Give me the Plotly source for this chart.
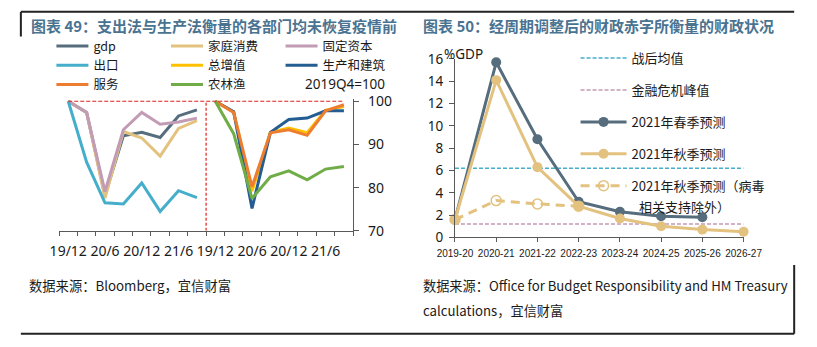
import plotly.graph_objects as go

# ---------------- data ----------------
QUARTERS = ["19/12", "20/3", "20/6", "20/9", "20/12", "21/3", "21/6", "21/9"]
LABELED_QUARTERS = ["19/12", "20/6", "20/12", "21/6"]

GDP = [100, 97.4, 78.2, 92.0, 92.8, 91.6, 96.6, 98.0]
HOUSEHOLD = [100, 97.4, 77.6, 93.0, 91.5, 87.3, 93.7, 95.5]
FIXED_CAPITAL = [100, 97.4, 79.1, 93.4, 97.4, 94.7, 95.2, 96.1]
EXPORTS = [100, 85.9, 76.5, 76.2, 81.1, 74.5, 79.3, 77.7]
GVA = [100, 97.5, 79.2, 92.8, 93.8, 92.7, 97.9, 98.8]
PRODUCTION = [100, 97.6, 75.2, 92.8, 95.8, 96.1, 97.8, 97.8]
SERVICES = [100, 97.4, 80.2, 92.7, 93.4, 92.1, 97.8, 99.2]
AGRICULTURE = [100, 92.5, 77.5, 82.5, 83.9, 81.8, 84.3, 84.9]
BASE_LEVEL = 100

YEARS = ["2019-20", "2020-21", "2021-22", "2022-23", "2023-24", "2024-25", "2025-26", "2026-27"]
SPRING = [1.6, 15.7, 8.8, 3.2, 2.3, 1.9, 1.8, None]
AUTUMN = [1.6, 14.1, 6.3, 2.8, 1.7, 1.0, 0.7, 0.5]
AUTUMN_EX_COVID = [1.6, 3.3, 3.0, 2.8, None, None, None, None]
POSTWAR_AVG = 6.2
GFC_PEAK = 1.2

# ---------------- helpers ----------------
W, H = 817, 347
def fx(px):
    return px / W
def fy(py):
    return 1 - py / H

FONT = "Noto Sans, Noto Sans CJK SC, sans-serif"
CJK = "Noto Sans CJK SC, sans-serif"
AX = "#595959"
TXT = "#1a1a1a"

n = len(QUARTERS)
pos_left = list(range(n))
pos_right = [n + i for i in range(n)]
all_pos = pos_left + pos_right
all_labels = QUARTERS + QUARTERS
tickvals = [p for p, q in zip(all_pos, all_labels) if q in LABELED_QUARTERS]
ticktext = [q for q in all_labels if q in LABELED_QUARTERS]

fig = go.Figure()

left_series = [
    ("gdp", GDP, "#566d7e", pos_left, "legend"),
    ("家庭消费", HOUSEHOLD, "#e3c27f", pos_left, "legend2"),
    ("固定资本", FIXED_CAPITAL, "#c29bb4", pos_left, "legend3"),
    ("出口", EXPORTS, "#45aecb", pos_left, "legend"),
    ("总增值", GVA, "#ffc000", pos_right, "legend2"),
    ("生产和建筑", PRODUCTION, "#245d91", pos_right, "legend3"),
    ("服务", SERVICES, "#ed7d31", pos_right, "legend"),
    ("农林渔", AGRICULTURE, "#70ad47", pos_right, "legend2"),
]
for name, vals, color, xs, lg in left_series:
    fig.add_trace(go.Scatter(
        x=xs, y=vals, name=name, mode="lines",
        line=dict(color=color, width=3), legend=lg,
        xaxis="x", yaxis="y", hoverinfo="skip"))

# red dashed baseline at 100
fig.add_trace(go.Scatter(
    x=[all_pos[0], all_pos[-1]], y=[BASE_LEVEL, BASE_LEVEL], mode="lines",
    line=dict(color="#e0201b", width=1.2, dash="4px,2px"),
    showlegend=False, xaxis="x", yaxis="y", hoverinfo="skip"))

# right panel
fig.add_trace(go.Scatter(
    x=YEARS, y=[POSTWAR_AVG] * len(YEARS), name="战后均值", mode="lines",
    line=dict(color="#45aecb", width=1.5, dash="4px,2px"),
    legend="legend4", legendgroup="a", xaxis="x2", yaxis="y2", hoverinfo="skip"))
fig.add_trace(go.Scatter(
    x=YEARS, y=[GFC_PEAK] * len(YEARS), name="金融危机峰值", mode="lines",
    line=dict(color="#c29bb4", width=1.5, dash="4px,2px"),
    legend="legend4", legendgroup="b", xaxis="x2", yaxis="y2", hoverinfo="skip"))
fig.add_trace(go.Scatter(
    x=YEARS, y=SPRING, name="2021年春季预测", mode="lines+markers",
    line=dict(color="#566d7e", width=3), marker=dict(size=10, color="#566d7e"),
    cliponaxis=False, legend="legend4", legendgroup="c",
    xaxis="x2", yaxis="y2", hoverinfo="skip"))
fig.add_trace(go.Scatter(
    x=YEARS, y=AUTUMN, name="2021年秋季预测", mode="lines+markers",
    line=dict(color="#e3c27f", width=3), marker=dict(size=10, color="#e3c27f"),
    cliponaxis=False, legend="legend4", legendgroup="d",
    xaxis="x2", yaxis="y2", hoverinfo="skip"))
fig.add_trace(go.Scatter(
    x=YEARS, y=AUTUMN_EX_COVID, name="2021年秋季预测（病毒",
    mode="lines+markers",
    line=dict(color="#e3c27f", width=3, dash="9px,6px"),
    marker=dict(size=10, symbol="circle-open", color="#e3c27f", line=dict(width=1.5)),
    cliponaxis=False, legend="legend4", legendgroup="e",
    xaxis="x2", yaxis="y2", hoverinfo="skip"))

# y scale of left chart: 10 units = 45.6 px, value 100 at y=97.3
y_top = BASE_LEVEL + 0.5
top_px = 97.3 - (y_top - BASE_LEVEL) * 4.56

leg_common = dict(bgcolor="rgba(0,0,0,0)", font=dict(family=CJK, size=12.5, color=TXT),
                  xanchor="left", yanchor="top", itemwidth=32, tracegroupgap=0)

fig.update_layout(
    width=W, height=H, margin=dict(l=0, r=0, t=0, b=0),
    paper_bgcolor="white", plot_bgcolor="white",
    font=dict(family=FONT, color=TXT),
    hovermode=False,
    xaxis=dict(domain=[fx(43), fx(351)], range=[-0.5, len(all_pos) - 0.5],
               tickmode="array", tickvals=tickvals, ticktext=ticktext,
               ticks="", showline=True, linecolor=AX, linewidth=1,
               showgrid=False, zeroline=False, anchor="y", tickangle=0,
               ticklabelstandoff=7,
               tickfont=dict(size=14, color=TXT),
               minor=dict(tickvals=[p - 0.5 for p in all_pos] + [all_pos[-1] + 0.5],
                          ticks="outside", ticklen=4, tickcolor=AX, tickwidth=1)),
    yaxis=dict(domain=[fy(234), fy(top_px)], range=[70, y_top], side="right",
               tickvals=[70, 80, 90, 100], ticks="outside", ticklen=5,
               tickcolor=AX, showline=True, linecolor=AX, linewidth=1,
               showgrid=False, zeroline=False, anchor="x", ticklabelstandoff=6,
               tickfont=dict(size=14, color=TXT)),
    xaxis2=dict(domain=[fx(457.7), fx(760)], type="category", range=[0, len(YEARS) - 1],
                ticks="outside", ticklen=4, tickcolor=AX, showline=True,
                linecolor=AX, linewidth=1, showgrid=False, zeroline=False,
                anchor="y2", tickangle=0, ticklabelstandoff=3,
                tickfont=dict(family="Liberation Sans, sans-serif", size=10, color=TXT)),
    yaxis2=dict(domain=[fy(240.9), fy(52.7)], range=[0, 16], dtick=2,
                ticks="outside", ticklen=5, tickcolor=AX, showline=True,
                linecolor=AX, linewidth=1, showgrid=False, zeroline=False,
                anchor="x2", ticklabelstandoff=3, tickfont=dict(size=13.5, color=TXT)),
    legend=dict(x=fx(35), y=fy(23.5), **leg_common),
    legend2=dict(x=fx(155), y=fy(23.5), **leg_common),
    legend3=dict(x=fx(275), y=fy(23.5), **leg_common),
    legend4=dict(x=fx(584), y=fy(36), bgcolor="rgba(0,0,0,0)",
                 font=dict(family=CJK, size=13, color=TXT),
                 xanchor="left", yanchor="top", itemwidth=46,
                 tracegroupgap=12),
)

TITLE_COLOR = "#4a7391"
ann = [
    dict(x=fx(11), y=fy(17.5), text="<b>图表 49：支出法与生产法衡量的各部门均未恢复疫情前</b>",
         font=dict(family=CJK, size=15, color=TITLE_COLOR), xanchor="left", yanchor="middle"),
    dict(x=fx(422), y=fy(17.5), text="<b>图表 50：经周期调整后的财政赤字所衡量的财政状况</b>",
         font=dict(family=CJK, size=15, color=TITLE_COLOR), xanchor="left", yanchor="middle"),
    dict(x=fx(386), y=fy(79), text="2019Q4=100",
         font=dict(family=FONT, size=13.5, color=TXT), xanchor="right", yanchor="middle"),
    dict(x=fx(444), y=fy(47), text="%GDP",
         font=dict(family=FONT, size=13.5, color=TXT), xanchor="left", yanchor="middle"),
    dict(x=fx(648), y=fy(208), text="相关支持除外）",
         font=dict(family=CJK, size=13, color=TXT), xanchor="left", yanchor="middle"),
    dict(x=fx(9), y=fy(292), text="数据来源：Bloomberg，宜信财富",
         font=dict(family=CJK, size=13.3, color=TXT), xanchor="left", yanchor="middle"),
    dict(x=fx(422), y=fy(292), text="数据来源：Office for Budget Responsibility and HM Treasury",
         font=dict(family=CJK, size=13.2, color=TXT), xanchor="left", yanchor="middle"),
    dict(x=fx(422), y=fy(318), text="calculations，宜信财富",
         font=dict(family=CJK, size=13.2, color=TXT), xanchor="left", yanchor="middle"),
]
for a in ann:
    a.update(xref="paper", yref="paper", showarrow=False)
fig.update_layout(annotations=ann)

shapes = [
    dict(type="line", xref="paper", yref="paper", x0=fx(3), x1=fx(813), y0=fy(3), y1=fy(3),
         line=dict(color="#222", width=2)),
    dict(type="line", xref="paper", yref="paper", x0=fx(3), x1=fx(3), y0=fy(3), y1=fy(29),
         line=dict(color="#222", width=2)),
    dict(type="line", xref="paper", yref="paper", x0=fx(3), x1=fx(813), y0=fy(342.5), y1=fy(342.5),
         line=dict(color="#222", width=2)),
    dict(type="line", xref="paper", yref="paper", x0=fx(813), x1=fx(813), y0=fy(270), y1=fy(342.5),
         line=dict(color="#222", width=2)),
    # divider between expenditure and output panels
    dict(type="line", xref="x", yref="y", x0=n - 0.5, x1=n - 0.5, y0=70, y1=BASE_LEVEL,
         line=dict(color="#e0201b", width=1.2, dash="3px,2px")),
]
fig.update_layout(shapes=shapes)

fig.write_html("out.html", config={"displayModeBar": False})
